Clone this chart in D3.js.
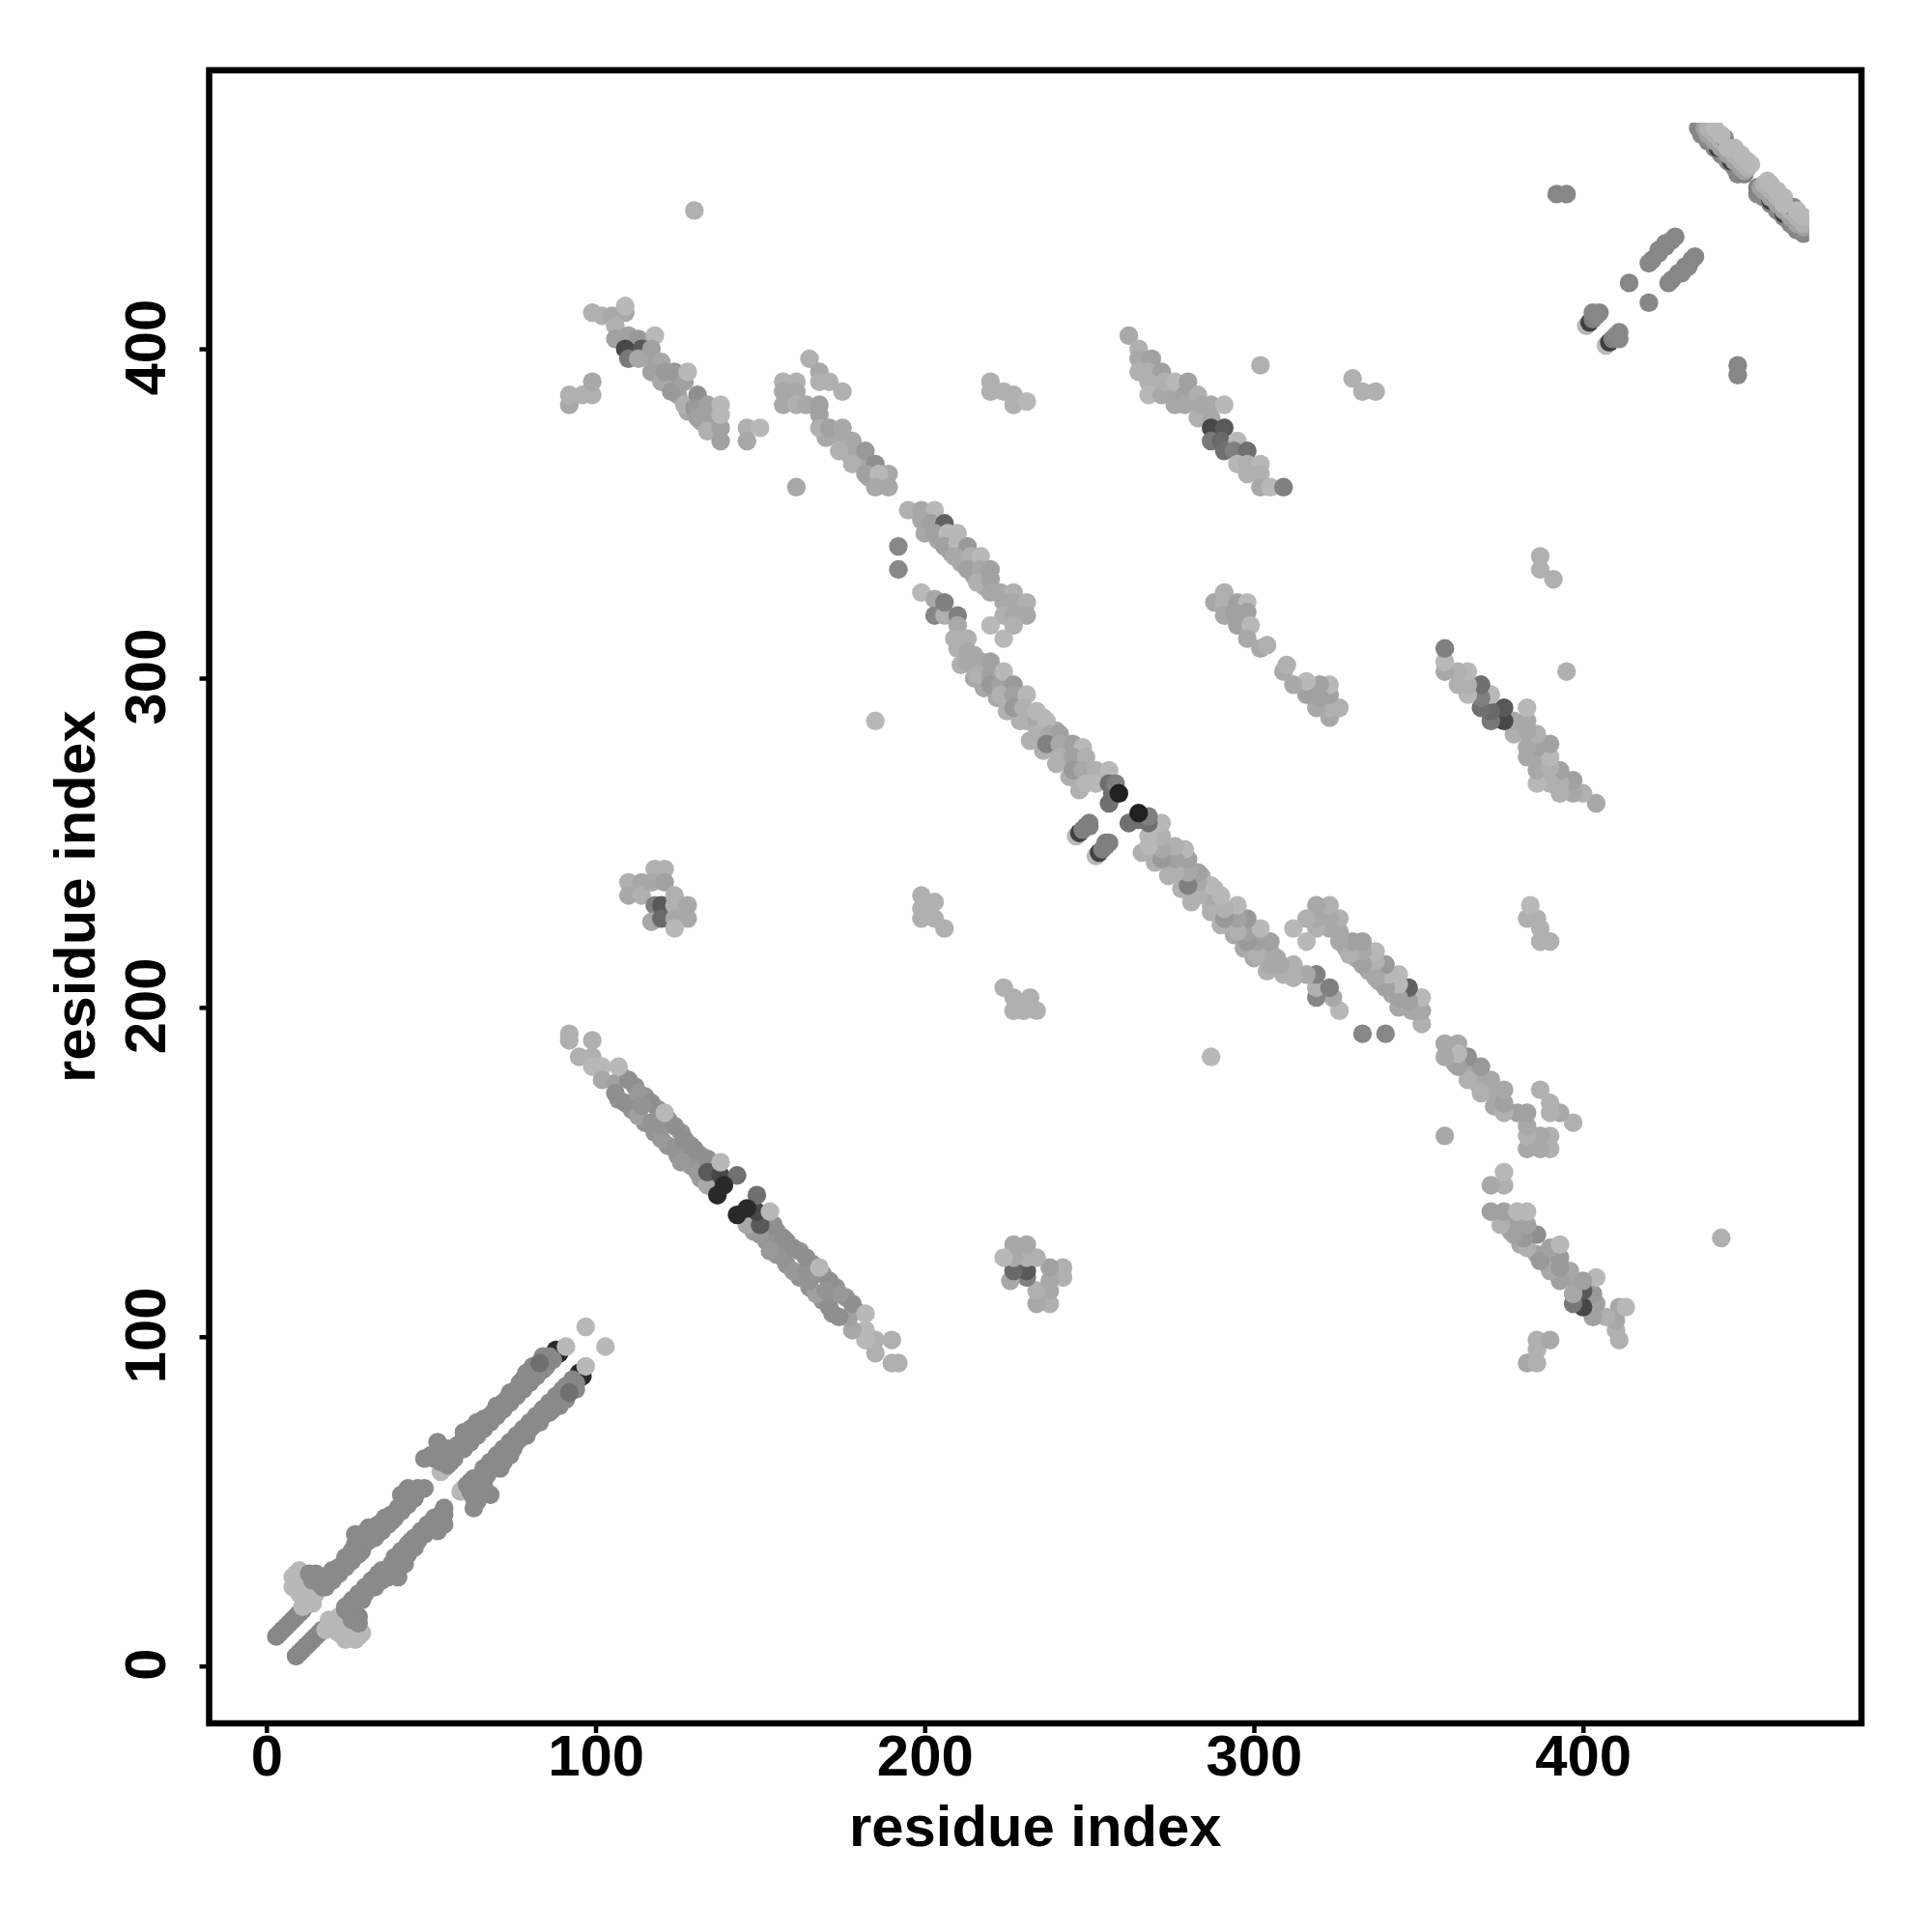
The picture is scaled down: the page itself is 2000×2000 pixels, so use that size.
<!DOCTYPE html>
<html>
<head>
<meta charset="utf-8">
<script src="https://cdn.jsdelivr.net/npm/d3@7"></script>
<style>html,body{margin:0;padding:0;background:#fff}svg{display:block}</style>
</head>
<body>
<svg id="chart" width="2000" height="2000"></svg>
<script>
// Each contact: [residue i, residue j, contact score]; every contact is shown at (i,j) and (j,i).
const axisTicks = [0, 100, 200, 300, 400];
const axisLabel = "residue index";
const residueCount = 468.7;

const nearBandStart = [[3,9,.47],[4,10,.47],[5,11,.47],[6,12,.47],[7,13,.47],[8,14,.47],[9,15,.47],[10,16,.47],[11,17,.47]];
const nearBandLight = [[9,28,.28],[8,27,.28],[9,25,.28],[8,24,.28],[10,22,.28],[12,21,.28],[12,20,.28],[14,19,.28],[11,18,.28],[15,22,.28],[13,24,.28],[11,26,.28],[10,29,.28]];
const nearBandA = [[13,28,.46],[14,26,.46],[17,24,.46],[15,28,.46],[16,26,.46],[18,25,.46],[20,27,.46],[18,24,.46],[20,26,.46],[22,28,.46],
 [24,30,.46],[24,32,.46],[26,32,.46],[27,40,.46],[27,37,.46],[28,34,.46],[29,35,.46],[31,42,.46],[29,40,.46],[31,38,.46],[33,39,.46],[33,41,.46],[35,41,.46],[35,42,.46],
 [36,44,.46],[38,44,.46],[37,43,.46],[37,45,.46],[39,45,.46],[40,47,.46],[41,47,.46],[43,49,.46],[41,52,.46],[43,54,.46],[42,50,.46],[45,51,.46],[44,52,.46],[46,53,.46],[48,54,.46],[46,54,.46],[41,49,.46]];
const nearBandOuterA = [[20,29,.46],[22,30,.46],[24,33,.46],[26,35,.46],[30,39,.46],[32,41,.46],[34,43,.46],[36,45,.46],[38,46,.46],[40,48,.46]];
const nearBandB = [[53,59,.28],[54,60,.28],[52,68,.46],[48,63,.46],[50,64,.46],[53,66,.46],[55,66,.46],[51,63,.46],[53,62,.46],[55,61,.46],[56,62,.46],[57,63,.46],[58,67,.46],
 [60,71,.46],[62,72,.46],[59,67,.46],[60,66,.46],[62,68,.46],[64,70,.46],[64,73,.46],[66,72,.46],[66,74,.46],[67,75,.46],[68,74,.46],[69,77,.46],[70,76,.46],[71,79,.46],[72,78,.46],[73,81,.46],[74,80,.46],
 [76,82,.46],[75,83,.46],[77,85,.46],[78,84,.46],[77,86,.46],[80,86,.46],[79,89,.46],[82,88,.46],[81,91,.46],[84,90,.46],[84,93,.46],[85,91,.46]];
const nearBandOuterB = [[60,69,.46],[62,71,.46],[64,74,.46],[66,75,.46],[68,76,.46],[70,79,.46],[72,80,.46],[74,83,.46],[76,84,.46],[78,87,.46],[80,89,.46],[82,91,.46],[84,94,.46]];
const nearBandEnd = [[88,96,.84],[89,95,.84],[86,94,.47],[87,93,.47],[83,92,.56],[91,97,.28],[97,103,.28]];

const hairpinOneFill = [[107,172,.42],[111,169,.42],[115,165,.42],[118,162,.42],[122,158,.42],[125,155,.42],[129,152,.42],[132,148,.38],
 [108,179,.42],[112,176,.42],[115,173,.42],[119,169,.42],[122,166,.42],[126,162,.42],[129,158,.42],[132,155,.42],[136,152,.44]];
const hairpinOne = [[92,192,.31],[92,190,.31],[99,190,.31],[95,185,.31],[99,185,.31],[99,182,.28],[102,182,.28],[102,178,.34],[106,177,.37],[110,178,.44],[107,182,.28],
 [106,174,.44],[109,171,.44],[113,174,.4],[113,167,.37],[117,171,.44],[114,170,.42],[117,165,.42],[120,160,.4],[120,164,.42],[124,164,.44],[121,168,.28],[124,157,.42],[127,160,.44],
 [126,153,.4],[130,157,.44],[131,150,.4],[134,154,.44],[134,146,.34],[134,150,.65],[138,149,.72],[143,149,.56],[137,143,.84],[139,146,.84],[138,153,.28]];

const upperLeftPatch = [[92,383,.34],[92,386,.31],[96,386,.31],[99,386,.31],[99,390,.34]];
const upperLeftFill = [[112,401,.4],[115,398,.37],[118,394,.37],[122,390,.37],[125,386,.37],[128,381,.34],[132,378,.34],[135,379,.37]];
const upperLeftStrand = [[99,411,.31],[102,410,.31],[105,410,.34],[109,411,.34],[109,413,.28],[106,407,.31],[106,403,.37],[110,404,.37],[113,403,.4],
 [109,400,.72],[110,397,.53],[118,404,.28],[114,400,.65],[113,397,.34],[117,400,.37],[120,396,.34],[117,393,.37],[120,390,.34],[121,393,.4],[124,393,.4],[123,387,.4],[127,390,.37],[128,393,.28],
 [127,383,.31],[131,386,.44],[130,382,.4],[131,379,.37],[134,383,.37],[134,375,.31],[138,376,.37],[138,372,.37],[138,383,.28],[138,380,.28]];
const upperLeftDots = [[146,376,.31],[150,376,.28],[146,372,.34]];

const upperMidFill = [[170,373,.34],[172,374,.34],[177,368,.34],[180,366,.34],[183,361,.34],[186,360,.34]];
const upperMidStrand = [[157,390,.31],[161,390,.31],[157,387,.34],[161,387,.34],[157,383,.34],[161,383,.31],[164,383,.34],[168,383,.37],[168,380,.37],[165,397,.31],[168,393,.34],[168,390,.31],[171,390,.31],[175,387,.31],
 [168,376,.31],[171,376,.37],[175,376,.34],[175,372,.34],[178,372,.34],[174,369,.31],[182,369,.4],[178,365,.31],[185,365,.44],[182,362,.37],[189,362,.34],[186,362,.28],[185,358,.34],[189,358,.34]];
const isolatedContacts = [[161,358,.34],[130,442,.31],[185,287,.28],[302,395,.31],[330,391,.31],[333,387,.31],[337,387,.31]];

const centralUpperFill = [[200,344,.34],[204,342,.34],[208,338,.34],[211,335,.34],[215,331,.34],[218,328,.34]];
const centralUpper = [[192,340,.47],[192,333,.47],[195,351,.31],[199,351,.34],[203,351,.28],[199,348,.34],[202,347,.37],[206,347,.62],[203,344,.37],[207,344,.28],[210,344,.28],[206,340,.37],[210,341,.28],[213,340,.4],[209,337,.34],[214,337,.31],[217,337,.28],
 [213,333,.37],[217,333,.34],[220,333,.37],[216,329,.31],[220,330,.37],[220,326,.34],[223,326,.34],[227,326,.31],[224,323,.34],[227,323,.34],[231,323,.31],[224,319,.31],[227,319,.34],[231,319,.34],[227,316,.31],[220,316,.28],[224,312,.28]];
const centralLowerFill = [[211,304,.31],[215,300,.34],[218,297,.34],[222,294,.34],[225,290,.31],[229,287,.31],[232,281,.31],[236,278,.31],[240,274,.31],[244,270,.31],[247,266,.31],
 [212,310,.34],[215,307,.34],[218,303,.37],[222,300,.37],[225,297,.37],[229,293,.34],[232,289,.31],[236,285,.31],[239,281,.34],[243,278,.37],[246,274,.34],[250,270,.31],[254,270,.31],[236,288,.3],[240,284,.34]];
const centralLower = [[199,326,.28],[203,324,.34],[203,319,.47],[206,319,.31],[206,323,.5],[210,319,.5],[210,316,.34],[209,312,.31],[213,312,.31],[210,309,.31],[213,308,.34],[213,305,.34],[217,305,.34],[220,305,.37],[216,301,.31],[220,301,.37],[220,298,.4],[223,298,.37],[224,302,.28],[227,298,.4],[223,295,.31],[227,295,.37],[227,291,.4],[231,295,.28],[230,291,.31],
 [231,287,.31],[234,287,.34],[237,287,.28],[234,290,.28],[234,283,.31],[238,283,.34],[241,283,.37],[237,280,.5],[241,280,.34],[241,276,.31],[245,280,.37],[248,279,.28],[245,276,.37],[249,276,.31],[245,272,.4],[248,272,.34],[252,272,.31],[249,268,.28],[252,268,.28],[256,272,.28]];
const centralCore = [[256,262,.56],[257,265,.56],[256,268,.56],[258,268,.5],[259,265,.87]];
const centralPills = [[246,252,.28],[247,253,.75],[248,254,.5],[249,255,.5],[250,255,.5],[250,256,.5]];

const clusterA = [[110,238,.31],[110,234,.34],[114,238,.34],[114,234,.31],[118,242,.31],[121,242,.31],[117,238,.34],[121,238,.37],[118,231,.5],[120,231,.65],[117,226,.34],[120,227,.59],[124,234,.31],[124,231,.31],[128,231,.34],[128,227,.34],[124,227,.34],[124,224,.28]];
const clusterB = [[199,234,.31],[203,232,.31],[199,230,.31],[203,227,.31],[199,227,.31],[206,224,.31]];
const clusterC = [[220,390,.31],[220,387,.31],[224,387,.31],[227,386,.31],[227,383,.31],[231,384,.28]];

const strandRightFill = [[267,395,.34],[270,391,.34],[274,388,.34],[277,386,.34],[281,384,.34],[285,381,.34],[300,363,.3],[296,367,.3]];
const strandRight = [[262,404,.34],[265,400,.31],[265,397,.34],[265,393,.31],[269,397,.37],[268,393,.31],[272,393,.37],[268,390,.31],[268,386,.28],[272,386,.34],[273,390,.31],[276,390,.28],[280,390,.37],[276,383,.34],[279,386,.37],[279,383,.34],[283,386,.31],[283,379,.31],[284,383,.34],[287,383,.34],[291,383,.28],[287,379,.34],
 [287,376,.72],[287,372,.53],[291,376,.65],[290,372,.59],[291,369,.56],[295,372,.28],[294,369,.5],[298,369,.56],[295,365,.28],[298,365,.31],[302,365,.28],[298,362,.31],[302,362,.31],[302,358,.34],[305,358,.28],[309,358,.5]];
const selfPaired = [[288,323,.34],[291,326,.31],[291,323,.31],[291,319,.34],[295,323,.37],[298,323,.28],[294,320,.37],[298,320,.37],[295,316,.37],[299,316,.28],[298,312,.34],[302,309,.34],[304,310,.31]];

const topBandLeft = [[401,407,.28],[402,408,.75],[403,409,.5],[403,411,.47],[405,411,.47],[404,410,.47]];
const topBandMid = [[414,420,.47],[420,426,.47],[421,427,.47],[423,429,.47],[423,430,.47],[425,431,.47],[425,432,.47],[427,433,.47],[428,434,.47]];
const topDots = [[392,447,.47],[395,447,.47]];
const terminalHairpin = [[435,467,.47],[436,465,.47],[438,463,.47],[440,461,.47],[442,459,.47],[444,457,.47],[446,455,.47],[447,453,.47],[449,453,.5],
 [441,461,.75],[445,457,.75],[437,467,.37],[438,465,.37],[440,463,.37],[442,461,.37],[444,459,.37],[446,457,.37],[448,455,.37],[449,454,.37],
 [438,467,.31],[440,465,.31],[442,463,.31],[444,461,.31],[446,459,.31],[448,457,.31],[450,455,.31],
 [443,464,.47],[440,467,.28],[442,465,.28],[444,461,.28],[446,461,.28],[448,459,.28],[450,457,.28],[451,456,.28]];

const contactGroups = [nearBandStart, nearBandLight, nearBandA, nearBandOuterA, nearBandB, nearBandOuterB, nearBandEnd, hairpinOneFill, hairpinOne,
  upperLeftPatch, upperLeftFill, upperLeftStrand, upperLeftDots, upperMidFill, upperMidStrand, isolatedContacts,
  centralUpperFill, centralUpper, centralLowerFill, centralLower, centralCore, centralPills, clusterA, clusterB, clusterC,
  strandRightFill, strandRight, selfPaired, topBandLeft, topBandMid, topDots, terminalHairpin];

const svg = d3.select("#chart");
const box = {left: 216.5, right: 1927, top: 72.7, bottom: 1784};
const x = d3.scaleLinear().domain([-17.4, 484.6]).range([box.left, box.right]);
const y = d3.scaleLinear().domain([-17.4, 484.6]).range([box.bottom, box.top]);
const grey = d3.scaleLinear().domain([0, 1]).range(["#ffffff", "#000000"]);
const font = "'Liberation Sans', Arial, sans-serif";

svg.append("defs").append("clipPath").attr("id", "dataClip").append("rect")
  .attr("x", box.left).attr("y", y(residueCount))
  .attr("width", x(residueCount) - box.left).attr("height", box.bottom - y(residueCount));

const points = contactGroups.flat().flatMap(([i, j, s]) => [[i, j, s], [j, i, s]]);
svg.append("g").attr("clip-path", "url(#dataClip)")
  .selectAll("circle").data(points).join("circle")
  .attr("cx", d => x(d[0])).attr("cy", d => y(d[1])).attr("r", 9.7)
  .attr("fill", d => grey(d[2]));

svg.append("rect").attr("x", box.left).attr("y", box.top)
  .attr("width", box.right - box.left).attr("height", box.bottom - box.top)
  .attr("fill", "none").attr("stroke", "#000").attr("stroke-width", 6.5);

const xAxis = svg.append("g").attr("transform", `translate(0,${box.bottom})`)
  .call(d3.axisBottom(x).tickValues(axisTicks).tickFormat(d3.format("d")).tickSize(10).tickSizeOuter(0).tickPadding(2));
const yAxis = svg.append("g").attr("transform", `translate(${box.left},0)`)
  .call(d3.axisLeft(y).tickValues(axisTicks).tickFormat(d3.format("d")).tickSize(10).tickSizeOuter(0));
[xAxis, yAxis].forEach(a => {
  a.select(".domain").remove();
  a.selectAll("line").attr("stroke", "#000").attr("stroke-width", 4.5);
  a.selectAll("text").attr("font-family", font).attr("font-weight", "bold").attr("font-size", 59.8).attr("fill", "#000");
});
yAxis.selectAll("text").attr("transform", "rotate(-90)").attr("x", 2).attr("y", -45.5).attr("dy", 0).attr("text-anchor", "middle");

svg.append("text").attr("x", (box.left + box.right) / 2).attr("y", 1911).attr("text-anchor", "middle")
  .attr("font-family", font).attr("font-weight", "bold").attr("font-size", 59.8).text(axisLabel);
svg.append("text").attr("transform", `translate(98,${(box.top + box.bottom) / 2}) rotate(-90)`).attr("text-anchor", "middle")
  .attr("font-family", font).attr("font-weight", "bold").attr("font-size", 59.8).text(axisLabel);
</script>
</body>
</html>
